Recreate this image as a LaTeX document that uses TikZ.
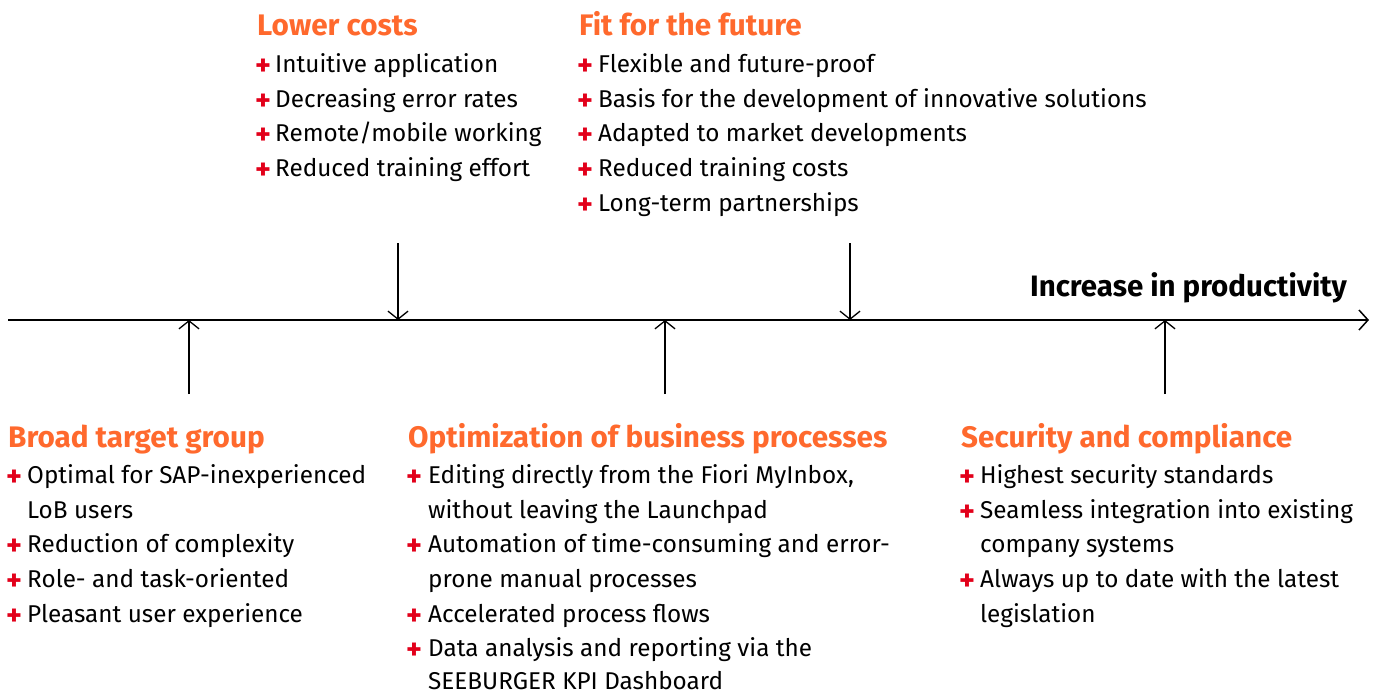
\documentclass[tikz,border=0pt]{standalone}
\usepackage{fontspec}
\setmainfont{Fira Sans}
\usetikzlibrary{arrows.meta}
\definecolor{ttl}{RGB}{255,105,45}
\definecolor{plusred}{RGB}{226,0,26}
\tikzset{
  ttlnode/.style={anchor=base west,inner sep=0pt,text=ttl,font=\fontsize{29.7}{34}\selectfont\bfseries},
  itemnode/.style={anchor=base west,inner sep=0pt,font=\fontsize{24.3}{34}\selectfont},
  plusnode/.style={anchor=base west,inner sep=0pt,text=plusred,font=\fontsize{30}{34}\selectfont\bfseries,yshift=-3pt,xshift=-1pt},
  axisline/.style={line width=1.8pt,-{Straight Barb[length=9pt,width=20pt,line width=1.5pt]}},
  pointer/.style={line width=1.3pt,-{Straight Barb[length=8pt,width=20pt,line width=1.3pt]}}
}
\begin{document}
\begin{tikzpicture}[x=1pt,y=-1pt]
\useasboundingbox (0,0) rectangle (1381,693);
% axis
\coordinate (a0) at (8,320);
\coordinate (a1) at (1369,320);
\draw[axisline] (a0) -- (a1);
\node[anchor=base east,inner sep=0pt,font=\fontsize{29.5}{34}\selectfont\bfseries] (inc) at (1347,296) {Increase in productivity};
% pointer coordinates
\coordinate (u1s) at (189,394); \coordinate (u1e) at (189,320);
\coordinate (u2s) at (665,394); \coordinate (u2e) at (665,320);
\coordinate (u3s) at (1165,394); \coordinate (u3e) at (1165,320);
\coordinate (d1s) at (398,243); \coordinate (d1e) at (398,320);
\coordinate (d2s) at (850,243); \coordinate (d2e) at (850,320);
\draw[pointer] (u1s) -- (u1e);
\draw[pointer] (u2s) -- (u2e);
\draw[pointer] (u3s) -- (u3e);
\draw[pointer] (d1s) -- (d1e);
\draw[pointer] (d2s) -- (d2e);
% Lower costs
\node[ttlnode] (lc) at (257,36) {Lower costs};
\node[plusnode] (lcp1) at (256,72) {+}; \node[itemnode] (lc1) at (275,72) {Intuitive application};
\node[plusnode] (lcp2) at (256,107) {+}; \node[itemnode] (lc2) at (275,107) {Decreasing error rates};
\node[plusnode] (lcp3) at (256,141) {+}; \node[itemnode] (lc3) at (275,141) {Remote/mobile working};
\node[plusnode] (lcp4) at (256,176) {+}; \node[itemnode] (lc4) at (275,176) {Reduced training effort};
% Fit for the future
\node[ttlnode] (ff) at (579,36) {Fit for the future};
\node[plusnode] (ffp1) at (578,72) {+}; \node[itemnode] (ff1) at (598,72) {Flexible and future-proof};
\node[plusnode] (ffp2) at (578,107) {+}; \node[itemnode] (ff2) at (598,107) {Basis for the development of innovative solutions};
\node[plusnode] (ffp3) at (578,141) {+}; \node[itemnode] (ff3) at (598,141) {Adapted to market developments};
\node[plusnode] (ffp4) at (578,176) {+}; \node[itemnode] (ff4) at (598,176) {Reduced training costs};
\node[plusnode] (ffp5) at (578,211) {+}; \node[itemnode] (ff5) at (598,211) {Long-term partnerships};
% Broad target group
\node[ttlnode] (bt) at (8,447) {Broad target group};
\node[plusnode] (btp1) at (7,483) {+}; \node[itemnode] (bt1) at (27,483) {Optimal for SAP-inexperienced};
\node[itemnode] (bt1b) at (27,518) {LoB users};
\node[plusnode] (btp2) at (7,552) {+}; \node[itemnode] (bt2) at (27,552) {Reduction of complexity};
\node[plusnode] (btp3) at (7,587) {+}; \node[itemnode] (bt3) at (27,587) {Role- and task-oriented};
\node[plusnode] (btp4) at (7,622) {+}; \node[itemnode] (bt4) at (27,622) {Pleasant user experience};
% Optimization
\node[ttlnode] (op) at (408,447) {Optimization of business processes};
\node[plusnode] (opp1) at (407,483) {+}; \node[itemnode] (op1) at (428,483) {Editing directly from the Fiori MyInbox,};
\node[itemnode] (op1b) at (428,518) {without leaving the Launchpad};
\node[plusnode] (opp2) at (407,552) {+}; \node[itemnode] (op2) at (428,552) {Automation of time-consuming and error-};
\node[itemnode] (op2b) at (428,587) {prone manual processes};
\node[plusnode] (opp3) at (407,622) {+}; \node[itemnode] (op3) at (428,622) {Accelerated process flows};
\node[plusnode] (opp4) at (407,656) {+}; \node[itemnode] (op4) at (428,656) {Data analysis and reporting via the};
\node[itemnode] (op4b) at (428,689) {SEEBURGER KPI Dashboard};
% Security
\node[ttlnode] (sc) at (961,447) {Security and compliance};
\node[plusnode] (scp1) at (960,483) {+}; \node[itemnode] (sc1) at (980,483) {Highest security standards};
\node[plusnode] (scp2) at (960,518) {+}; \node[itemnode] (sc2) at (980,518) {Seamless integration into existing};
\node[itemnode] (sc2b) at (980,552) {company systems};
\node[plusnode] (scp3) at (960,587) {+}; \node[itemnode] (sc3) at (980,587) {Always up to date with the latest};
\node[itemnode] (sc3b) at (980,622) {legislation};
\end{tikzpicture}
\end{document}
